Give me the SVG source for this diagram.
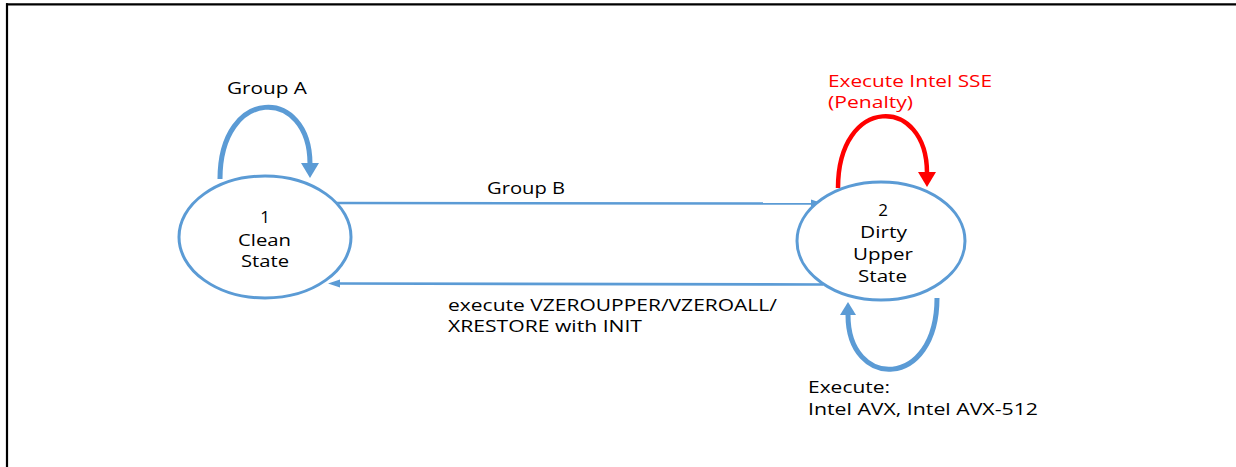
<svg xmlns="http://www.w3.org/2000/svg" width="1236" height="467" viewBox="0 0 1236 467">
<style>
text{font-family:"Open Sans","Noto Sans","DejaVu Sans",sans-serif;font-size:17px;fill:#000}
.red{fill:#ff0000}
.node{fill:#fff;stroke:#5b9bd5;stroke-width:3}
.edge{fill:none;stroke:#5b9bd5;stroke-width:2.6}
.loop{fill:none;stroke:#5b9bd5;stroke-width:5}
.loopr{fill:none;stroke:#ff0000;stroke-width:4.5}
.head{fill:#5b9bd5}
.headr{fill:#ff0000}
</style>
<rect width="1236" height="467" fill="#fff"/>
<g id="frame">
<line x1="6" y1="4.3" x2="1236" y2="4.3" stroke="#000" stroke-width="2.2"/>
<line x1="7" y1="3.2" x2="7" y2="467" stroke="#000" stroke-width="2.2"/>
</g>
<g id="connectors">
<path class="loop" d="M220 179 C220 86 310 86 310 164"/>
<polygon class="head" points="301,163 319,163 310,178"/>
<path class="loopr" d="M838 188 C838 95 927 95 927 173"/>
<polygon class="headr" points="918,172 936,172 927,187"/>
<path class="loop" d="M937 298 C937 390 848 390 848 315"/>
<polygon class="head" points="840,315 856,315 848,302"/>
<line class="edge" x1="337" y1="203" x2="813" y2="203.5"/>
<polygon class="head" points="811,199.5 823,203.5 811,207.5"/>
<line class="edge" x1="823" y1="284.5" x2="339" y2="283.5"/>
<polygon class="head" points="340,279.5 328,283.5 340,287.5"/>
<text x="227" y="94" textLength="80" lengthAdjust="spacingAndGlyphs">Group A</text>
<text x="487" y="194" textLength="78" lengthAdjust="spacingAndGlyphs">Group B</text>
<text x="448" y="311" textLength="329" lengthAdjust="spacingAndGlyphs">execute VZEROUPPER/VZEROALL/</text>
<text x="448" y="332" textLength="194" lengthAdjust="spacingAndGlyphs">XRESTORE with INIT</text>
<text class="red" x="828" y="87" textLength="164" lengthAdjust="spacingAndGlyphs">Execute Intel SSE</text>
<text class="red" x="828" y="108" textLength="85" lengthAdjust="spacingAndGlyphs">(Penalty)</text>
<text x="808" y="393" textLength="82" lengthAdjust="spacingAndGlyphs">Execute:</text>
<text x="808" y="415" textLength="230" lengthAdjust="spacingAndGlyphs">Intel AVX, Intel AVX-512</text>
</g>
<g id="node1">
<ellipse class="node" cx="265" cy="237" rx="86" ry="61"/>
<text x="265" y="223" text-anchor="middle">1</text>
<text x="238" y="246" textLength="53" lengthAdjust="spacingAndGlyphs">Clean</text>
<text x="241" y="267" textLength="48" lengthAdjust="spacingAndGlyphs">State</text>
</g>
<g id="node2">
<ellipse class="node" cx="881" cy="241" rx="84" ry="59"/>
<text x="883" y="216" text-anchor="middle">2</text>
<text x="860" y="238" textLength="47" lengthAdjust="spacingAndGlyphs">Dirty</text>
<text x="853" y="260" textLength="60" lengthAdjust="spacingAndGlyphs">Upper</text>
<text x="858" y="282" textLength="49" lengthAdjust="spacingAndGlyphs">State</text>
</g>
</svg>
